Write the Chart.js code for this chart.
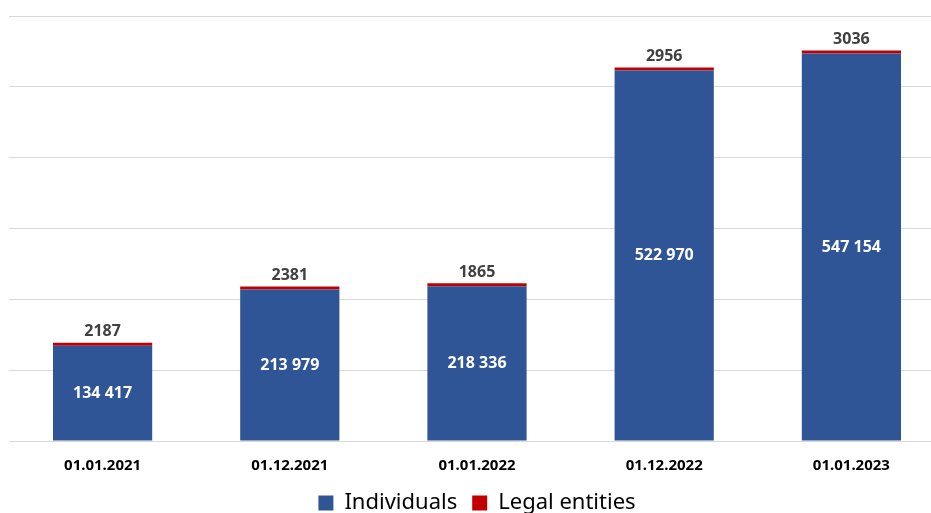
<!DOCTYPE html>
<html>
<head>
<meta charset="utf-8">
<script src="https://cdn.jsdelivr.net/npm/chart.js@4"></script>
<style>
  html, body { margin: 0; padding: 0; background: #fff; overflow: hidden; }
  #wrap { position: absolute; left: 0; top: 0; width: 945px; height: 524px; }
</style>
</head>
<body>
<div id="wrap"><canvas id="regChart"></canvas></div>
<script>
const dates = ['01.01.2021', '01.12.2021', '01.01.2022', '01.12.2022', '01.01.2023'];
const individuals = [134417, 213979, 218336, 522970, 547154];
const legalEntities = [2187, 2381, 1865, 2956, 3036];

const fontFam = '"Noto Sans", "Open Sans", sans-serif';

function fmt(n) {
  return String(n).replace(/\B(?=(\d{3})+(?!\d))/g, ' ');
}

// draws the numbers on and above the bars
const barLabels = {
  id: 'barLabels',
  afterDatasetsDraw(chart) {
    const ctx = chart.ctx;
    ctx.save();
    ctx.textAlign = 'center';
    ctx.textBaseline = 'middle';
    ctx.font = 'bold 16px ' + fontFam;

    chart.getDatasetMeta(0).data.forEach((bar, i) => {
      ctx.fillStyle = '#ffffff';
      ctx.fillText(fmt(individuals[i]), bar.x, (bar.y + bar.base) / 2);
    });
    chart.getDatasetMeta(1).data.forEach((bar, i) => {
      ctx.fillStyle = '#404040';
      ctx.fillText(String(legalEntities[i]), bar.x, bar.y - 11);
    });
    ctx.restore();
  }
};

new Chart(document.getElementById('regChart'), {
  type: 'bar',
  data: {
    labels: dates,
    datasets: [{
      label: 'Individuals',
      data: individuals,
      backgroundColor: '#2f5597',
      barPercentage: 0.53,
      categoryPercentage: 1.0
    },
    {
      label: 'Legal entities',
      data: legalEntities,
      backgroundColor: '#c00000',
      minBarLength: 3,
      barPercentage: 0.53,
      categoryPercentage: 1.0
    }]
  },
  options: {
    responsive: true,
    maintainAspectRatio: false,
    animation: false,
    layout: { padding: { left: 9, top: 16, right: 0, bottom: 0 } },
    scales: {
      x: {
        stacked: true,
        grid: { display: false },
        border: { display: false },
        ticks: { color: '#000', font: { family: fontFam, size: 15, weight: 'bold' }, padding: 8 },
        afterFit(scale) { scale.height -= 6; }
      },
      y: {
        stacked: true,
        min: 0,
        max: 600000,
        ticks: { display: false, stepSize: 100000 },
        grid: { color: '#d9d9d9', drawTicks: false },
        border: { display: false }
      }
    },
    plugins: {
      legend: {
        position: 'bottom',
        labels: {
          color: '#000',
          font: { family: fontFam, size: 22 },
          boxWidth: 15,
          boxHeight: 15,
          padding: 15
        }
      },
      tooltip: { enabled: false }
    }
  },
  plugins: [barLabels]
});
</script>
</body>
</html>
